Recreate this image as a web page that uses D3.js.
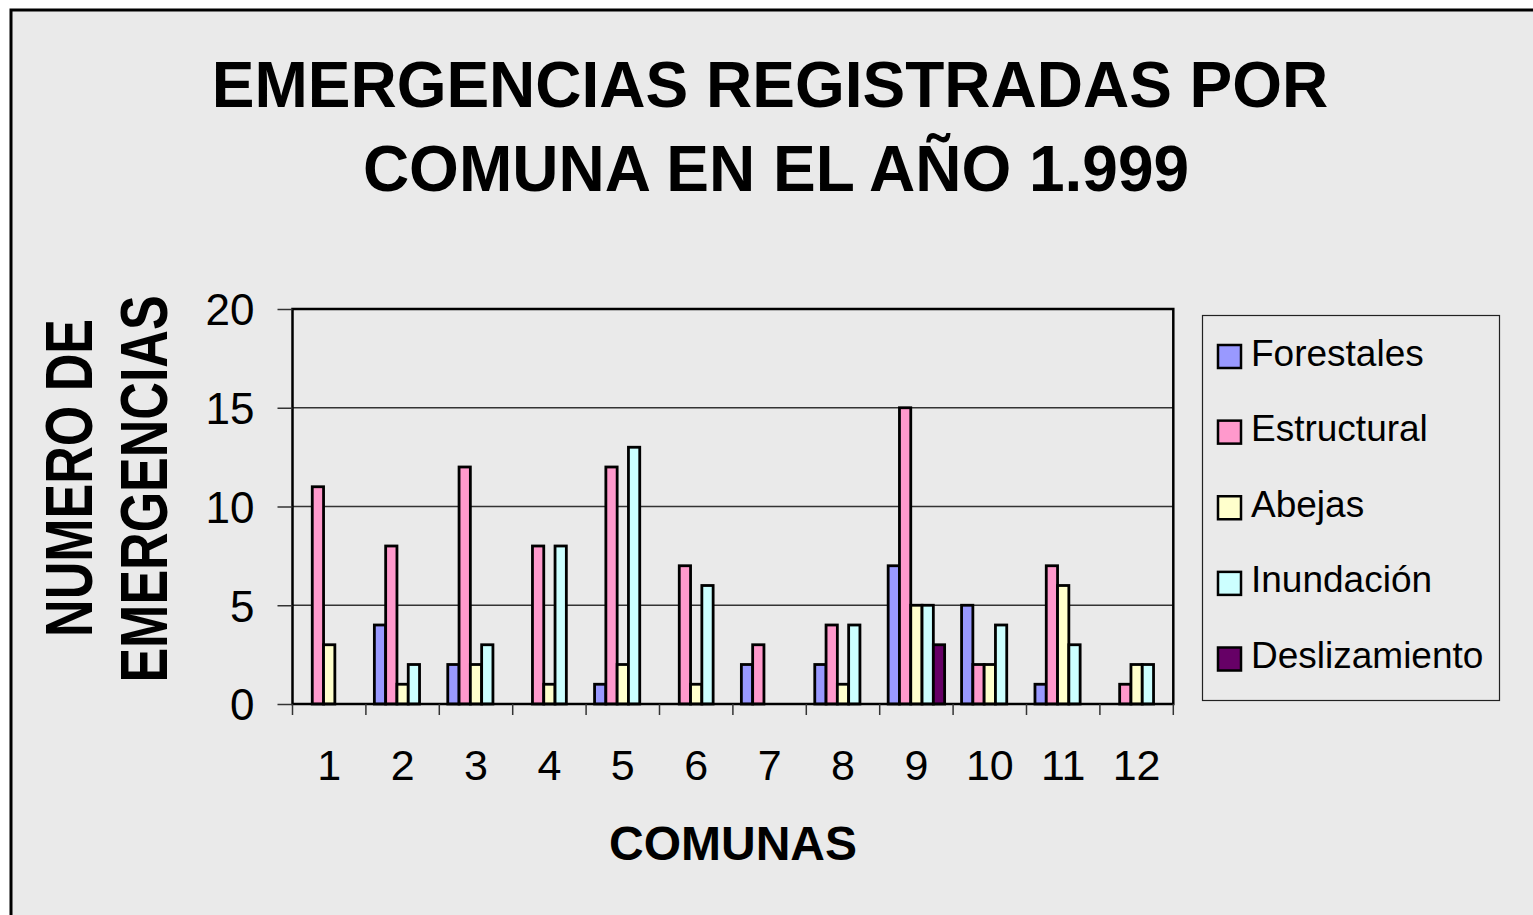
<!DOCTYPE html>
<html>
<head>
<meta charset="utf-8">
<script src="https://cdn.jsdelivr.net/npm/d3@7"></script>
<style>
  html, body { margin: 0; padding: 0; background: #ffffff; }
  svg { display: block; }
  text { font-family: "Liberation Sans", Arial, sans-serif; fill: #000; }
</style>
</head>
<body>
<svg id="chart" width="1533" height="915"></svg>
<script>
// ---- data ----
const comunas = ["1","2","3","4","5","6","7","8","9","10","11","12"];
const seriesNames = ["Forestales","Estructural","Abejas","Inundación","Deslizamiento"];
const forestales    = [0, 4, 2, 0, 1, 0, 2, 2, 7, 5, 1, 0];
const estructural   = [11, 8, 12, 8, 12, 7, 3, 4, 15, 2, 7, 1];
const abejas        = [3, 1, 2, 1, 2, 1, 0, 1, 5, 2, 6, 2];
const inundacion    = [0, 2, 3, 8, 13, 6, 0, 4, 5, 4, 3, 2];
const deslizamiento = [0, 0, 0, 0, 0, 0, 0, 0, 3, 0, 0, 0];
const yTicks = [0, 5, 10, 15, 20];
const seriesColors = ["#9999FF", "#FF99CC", "#FFFFCC", "#CCFFFF", "#660066"];
const titleLines = ["EMERGENCIAS REGISTRADAS POR", "COMUNA EN EL AÑO 1.999"];
const yTitleLines = ["NUMERO DE", "EMERGENCIAS"];
const xTitle = "COMUNAS";

const seriesValues = [forestales, estructural, abejas, inundacion, deslizamiento];

const svg = d3.select("#chart");

// outer chart area frame
svg.append("rect")
  .attr("x", 11).attr("y", 10)
  .attr("width", 1600).attr("height", 1000)
  .attr("fill", "#EAEAEA")
  .attr("stroke", "#000").attr("stroke-width", 3);

// plot area
const P = { left: 292.5, right: 1173.3, top: 309, bottom: 704 };

const x0 = d3.scaleBand().domain(comunas).range([P.left, P.right]).paddingInner(0).paddingOuter(0);
const bw = x0.bandwidth();
const barW = bw / 6.5;           // gap width 150%
const gap = barW * 1.5;
const x1 = d3.scaleBand().domain(seriesNames).range([gap / 2, bw - gap / 2]).padding(0);
const y = d3.scaleLinear().domain([0, 20]).range([P.bottom, P.top]);

// gridlines
svg.append("g").selectAll("line")
  .data(yTicks.filter(d => d > 0))
  .join("line")
  .attr("x1", P.left).attr("x2", P.right)
  .attr("y1", d => y(d)).attr("y2", d => y(d))
  .attr("stroke", "#333").attr("stroke-width", 1.5);

// bars
const gBars = svg.append("g");
comunas.forEach((c, i) => {
  const g = gBars.append("g").attr("transform", `translate(${x0(c)},0)`);
  g.selectAll("rect")
    .data(seriesNames.map((s, k) => ({ s, v: seriesValues[k][i], color: seriesColors[k] })).filter(d => d.v > 0))
    .join("rect")
    .attr("x", d => x1(d.s))
    .attr("width", x1.bandwidth())
    .attr("y", d => y(d.v))
    .attr("height", d => y(0) - y(d.v))
    .attr("fill", d => d.color)
    .attr("stroke", "#000")
    .attr("stroke-width", 2.8);
});

// plot border
svg.append("rect")
  .attr("x", P.left).attr("y", P.top)
  .attr("width", P.right - P.left).attr("height", P.bottom - P.top)
  .attr("fill", "none").attr("stroke", "#000").attr("stroke-width", 2.5);

// y axis
const yAxis = d3.axisLeft(y).tickValues(yTicks).tickSize(15).tickPadding(23).tickFormat(d3.format("d"));
const gy = svg.append("g").attr("transform", `translate(${P.left},0)`).call(yAxis);
gy.select(".domain").remove();
gy.selectAll(".tick line").attr("stroke", "#333").attr("stroke-width", 1.5);
gy.selectAll(".tick text")
  .attr("font-size", 44).attr("font-family", '"Liberation Sans", Arial, sans-serif')
  .attr("fill", "#000").attr("dy", "0.36em");

// x axis: ticks at category boundaries
const boundaries = comunas.map(c => x0(c)).concat([P.right]);
svg.append("g").selectAll("line")
  .data(boundaries)
  .join("line")
  .attr("x1", d => d).attr("x2", d => d)
  .attr("y1", P.bottom).attr("y2", P.bottom + 11)
  .attr("stroke", "#333").attr("stroke-width", 1.5);

const xAxis = d3.axisBottom(x0).tickSize(0).tickPadding(0);
const gx = svg.append("g").attr("transform", `translate(0,${P.bottom})`).call(xAxis);
gx.select(".domain").remove();
gx.selectAll(".tick text")
  .attr("font-size", 43).attr("font-family", '"Liberation Sans", Arial, sans-serif')
  .attr("fill", "#000").attr("y", 76).attr("dy", 0);

// title
const titleX = [770, 776];
svg.append("g").selectAll("text")
  .data(titleLines)
  .join("text")
  .attr("x", (d, i) => titleX[i])
  .attr("y", (d, i) => 107 + i * 83.5)
  .attr("text-anchor", "middle")
  .attr("font-size", 64)
  .attr("font-weight", "bold")
  .text(d => d);

// y title (two rotated lines)
const yTitlePos = [{ x: 92, y: 478 }, { x: 167, y: 489 }];
svg.append("g").selectAll("text")
  .data(yTitleLines)
  .join("text")
  .attr("transform", (d, i) => `translate(${yTitlePos[i].x},${yTitlePos[i].y}) rotate(-90) scale(1,1.28)`)
  .attr("text-anchor", "middle")
  .attr("font-size", 52)
  .attr("font-weight", "bold")
  .text(d => d);

// x title
svg.append("text")
  .attr("x", 733).attr("y", 860)
  .attr("text-anchor", "middle")
  .attr("font-size", 48)
  .attr("font-weight", "bold")
  .text(xTitle);

// legend
const L = { x: 1202.5, y: 315.5, w: 297, h: 385 };
svg.append("rect")
  .attr("x", L.x).attr("y", L.y).attr("width", L.w).attr("height", L.h)
  .attr("fill", "#EAEAEA").attr("stroke", "#222").attr("stroke-width", 1.2);
const ly = d3.scalePoint().domain(seriesNames).range([356.5, 659]);
const lg = svg.append("g").selectAll("g")
  .data(seriesNames)
  .join("g")
  .attr("transform", d => `translate(0,${ly(d)})`);
lg.append("rect")
  .attr("x", 1218).attr("y", -11.5)
  .attr("width", 23).attr("height", 23)
  .attr("fill", (d, i) => seriesColors[i])
  .attr("stroke", "#000").attr("stroke-width", 2.5);
lg.append("text")
  .attr("x", 1251).attr("y", 9)
  .attr("font-size", 37)
  .text(d => d);
</script>
</body>
</html>
